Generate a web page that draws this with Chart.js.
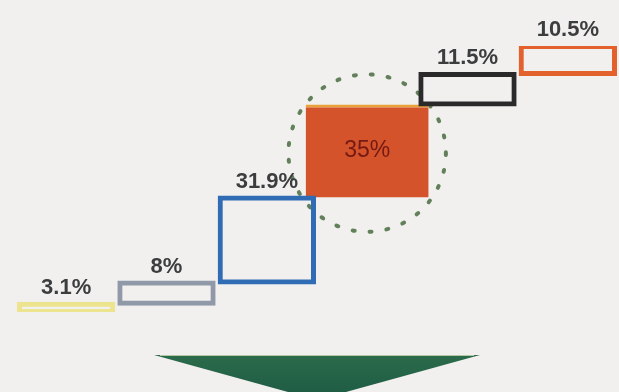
<!DOCTYPE html>
<html>
<head>
<meta charset="utf-8">
<script src="https://cdn.jsdelivr.net/npm/chart.js@4/dist/chart.umd.min.js"></script>
<style>
  html, body { margin: 0; padding: 0; background: #f1f0ee; }
  #wrap { width: 619px; height: 392px; position: relative; }
</style>
</head>
<body>
<div id="wrap"><canvas id="steps-chart"></canvas></div>
<script>
// Data
const steps = ['Step 1', 'Step 2', 'Step 3', 'Step 4', 'Step 5', 'Step 6'];
const shares = [3.1, 8, 31.9, 35, 11.5, 10.5];
const shareLabels = ['3.1%', '8%', '31.9%', '35%', '11.5%', '10.5%'];
const highlightIndex = 3;

// Styles
const outlineColors = ['#ece48f', '#8f99a8', '#2f6cb4', null, '#2a2a2a', '#e2612c'];
const highlightFill = '#d5532a';
const highlightEdge = '#e9a23a';

// each step floats on top of the previous ones
let running = 0;
const ranges = shares.map(v => {
    const r = [running, running + v];
    running += v;
    return r;
});

const outlineData = ranges.map((r, i) => i === highlightIndex ? null : r);
const highlightData = ranges.map((r, i) => i === highlightIndex ? r : null);

const stepLabelsPlugin = {
    id: 'stepLabels',
    beforeDatasetsDraw(chart) {
        // dotted ring behind the highlighted step
        const el = chart.getDatasetMeta(1).data[highlightIndex];
        if (!el) return;
        const { x, y, base, width } = el.getProps(['x', 'y', 'base', 'width'], true);
        const cy = (y + base) / 2 + 2;
        const r = width * 0.64;
        const ctx = chart.ctx;
        ctx.save();
        ctx.strokeStyle = '#62805a';
        ctx.lineWidth = 4;
        ctx.lineCap = 'round';
        ctx.setLineDash([2, 15]);
        ctx.beginPath();
        ctx.arc(x, cy, r, 0, Math.PI * 2);
        ctx.stroke();
        ctx.restore();
    },
    afterDatasetsDraw(chart) {
        const ctx = chart.ctx;
        ctx.save();
        ctx.textAlign = 'center';

        // value labels above the outlined steps
        const meta = chart.getDatasetMeta(0);
        ctx.font = 'bold 22px "Liberation Sans", Arial, sans-serif';
        ctx.fillStyle = '#3b3d3f';
        ctx.textBaseline = 'bottom';
        meta.data.forEach((el, i) => {
            if (i === highlightIndex || outlineData[i] === null) return;
            const { x, y } = el.getProps(['x', 'y'], true);
            ctx.fillText(shareLabels[i], x, y - 5);
        });

        // label inside the highlighted step
        const hl = chart.getDatasetMeta(1).data[highlightIndex];
        const { x, y, base } = hl.getProps(['x', 'y', 'base'], true);
        ctx.font = '23px "Liberation Sans", Arial, sans-serif';
        ctx.fillStyle = '#741a12';
        ctx.textBaseline = 'middle';
        ctx.fillText(shareLabels[highlightIndex], x, (y + base) / 2);

        // green arrow below the steps
        const area = chart.chartArea;
        const cx = (area.left + area.right) / 2;
        const top = area.bottom + 43;
        const half = 163;
        const grad = ctx.createLinearGradient(0, top, 0, top + 45);
        grad.addColorStop(0, '#2b6b4a');
        grad.addColorStop(1, '#1d5a44');
        ctx.fillStyle = grad;
        ctx.beginPath();
        ctx.moveTo(cx - half, top);
        ctx.lineTo(cx + half, top);
        ctx.lineTo(cx, top + 45);
        ctx.closePath();
        ctx.fill();
        ctx.strokeStyle = 'rgba(235,240,200,0.7)';
        ctx.lineWidth = 1;
        ctx.beginPath();
        ctx.moveTo(cx - half + 6, top + 0.5);
        ctx.lineTo(cx + half - 6, top + 0.5);
        ctx.stroke();
        ctx.restore();
    }
};

new Chart(document.getElementById('steps-chart'), {
    type: 'bar',
    data: {
        labels: steps,
        datasets: [
            {
                data: outlineData,
                backgroundColor: 'rgba(0,0,0,0)',
                borderColor: outlineColors.map(c => c || 'rgba(0,0,0,0)'),
                // border straddles the value edge: 2px out, 3px in
                borderWidth: 1,
                borderSkipped: false,
                inflateAmount: 2,
                barPercentage: 0.94,
                categoryPercentage: 1,
                grouped: false
            },
            {
                data: highlightData,
                backgroundColor: highlightFill,
                borderColor: highlightEdge,
                borderWidth: { top: 3, left: 0, right: 0, bottom: 0 },
                borderSkipped: false,
                inflateAmount: 0,
                barThickness: 123,
                grouped: false
            }
        ]
    },
    options: {
        responsive: true,
        maintainAspectRatio: false,
        animation: false,
        layout: { padding: { top: 46, bottom: 80, left: 16, right: 1 } },
        plugins: {
            legend: { display: false },
            tooltip: { enabled: false }
        },
        scales: {
            x: { display: false },
            y: { display: false, min: 0, max: 100 }
        }
    },
    plugins: [stepLabelsPlugin]
});
</script>
</body>
</html>
